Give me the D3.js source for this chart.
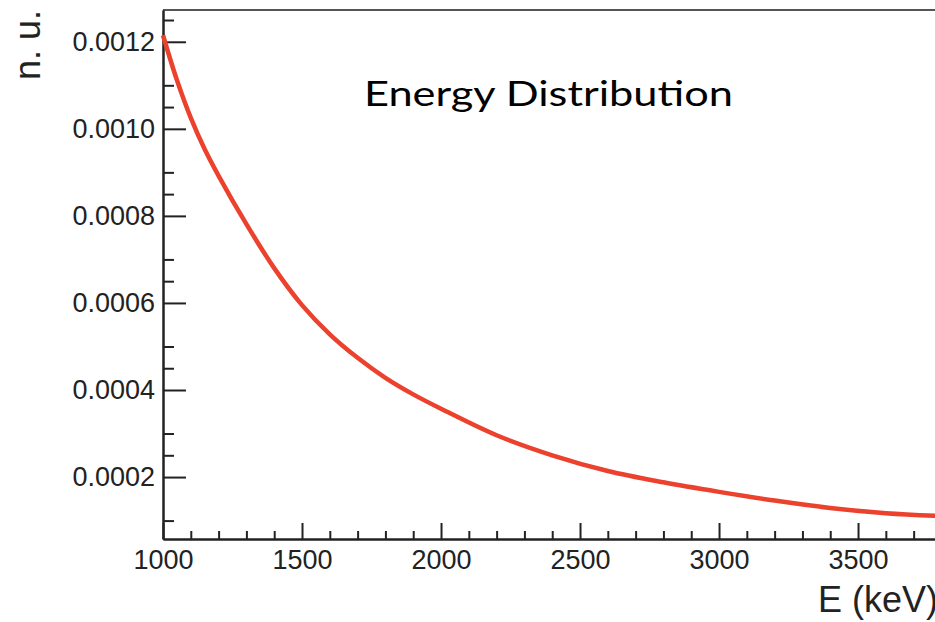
<!DOCTYPE html>
<html>
<head>
<meta charset="utf-8">
<script src="https://cdnjs.cloudflare.com/ajax/libs/d3/7.8.5/d3.min.js"></script>
<style>
    body { margin: 0; background: #fff; }
    .axis path, .axis line { stroke: #222; stroke-width: 2px; }
    .axis text { font-family: "Liberation Sans", Arial, sans-serif; font-size: 27px; fill: #222; }
</style>
</head>
<body>
<div id="EnergyChart"></div>
<script>
// Energy values (keV)
var energies = [1000, 1050, 1100, 1150, 1200, 1300, 1400, 1500, 1600, 1700, 1800, 1900,
    2000, 2200, 2400, 2600, 2800, 3000, 3200, 3400, 3600, 3780];

// normalised units at each energy
var density = [0.001215, 0.001112, 0.001025, 0.000953, 0.000892, 0.000781, 0.00068, 0.000595,
    0.000528, 0.000474, 0.000428, 0.00039, 0.000357, 0.000296, 0.00025, 0.000214,
    0.000188, 0.000166, 0.000146, 0.000129, 0.000117, 0.000111];

var xMajorTicks = [1000, 1500, 2000, 2500, 3000, 3500];
var yMajorTicks = [0.0002, 0.0004, 0.0006, 0.0008, 0.0010, 0.0012];

var xRange = [1000, 3820];
var yRange = [0.0000577, 0.001273];

var chartTitle = "Energy Distribution";
var xTitle = "E (keV)";
var yTitle = "n. u.";

var width = 935, height = 622;
var frame = {left: 163, right: 947, top: 10, bottom: 539};

var svg = d3.select("#EnergyChart")
    .append("svg")
    .attr("width", width)
    .attr("height", height);

// Set the ranges
var x = d3.scaleLinear().domain(xRange).range([frame.left, frame.right]);
var y = d3.scaleLinear().domain(yRange).range([frame.bottom, frame.top]);

// minor ticks every 100 keV and every 0.00005
var xMinorTicks = d3.range(1100, 3900, 100).filter(function (d) { return d % 500 !== 0; });
var yMinorTicks = d3.range(1, 26).map(function (i) { return i * 0.00005; })
    .filter(function (d) { return d > yRange[0] && Math.round(d * 10000) % 2 !== 0; });

// top border of the frame
svg.append("line")
    .attr("x1", frame.left).attr("x2", frame.right)
    .attr("y1", frame.top).attr("y2", frame.top)
    .attr("stroke", "#555")
    .attr("stroke-width", 2);

// Add the X Axis
svg.append("g")
    .attr("class", "x axis")
    .attr("transform", "translate(0," + frame.bottom + ")")
    .call(d3.axisBottom(x).tickValues(xMinorTicks).tickSize(-8).tickSizeOuter(0).tickFormat(""));

svg.append("g")
    .attr("class", "x axis")
    .attr("transform", "translate(0," + frame.bottom + ")")
    .call(d3.axisBottom(x).tickValues(xMajorTicks).tickSize(-16).tickSizeOuter(0).tickPadding(11)
        .tickFormat(d3.format("d")));

// Add the Y Axis
svg.append("g")
    .attr("class", "y axis")
    .attr("transform", "translate(" + frame.left + ",0)")
    .call(d3.axisLeft(y).tickValues(yMinorTicks).tickSize(-11).tickSizeOuter(0).tickFormat(""));

svg.append("g")
    .attr("class", "y axis")
    .attr("transform", "translate(" + frame.left + ",0)")
    .call(d3.axisLeft(y).tickValues(yMajorTicks).tickSize(-23).tickSizeOuter(0).tickPadding(8)
        .tickFormat(d3.format(".4f")));

// Define the line
var valueline = d3.line()
    .x(function (d, i) { return x(energies[i]); })
    .y(function (d) { return y(d); })
    .curve(d3.curveCatmullRom.alpha(0.5));

svg.append("path")
    .attr("fill", "none")
    .attr("stroke", "#eb412d")
    .attr("stroke-width", 4.5)
    .attr("d", valueline(density));

// axis titles
svg.append("text")
    .attr("x", 818)
    .attr("y", 612)
    .style("font-family", "Liberation Sans, Arial, sans-serif")
    .style("font-size", "36px")
    .attr("fill", "#222")
    .text(xTitle);

svg.append("text")
    .attr("transform", "translate(40," + frame.top + ") rotate(-90)")
    .attr("text-anchor", "end")
    .style("font-family", "Liberation Sans, Arial, sans-serif")
    .style("font-size", "36px")
    .attr("fill", "#222")
    .text(yTitle);

// Adding the Title
svg.append("text")
    .attr("x", 364)
    .attr("y", 106)
    .attr("textLength", 369)
    .attr("lengthAdjust", "spacingAndGlyphs")
    .style("font-family", "Lato, 'Open Sans', sans-serif")
    .style("font-size", "34px")
    .attr("fill", "#000")
    .text(chartTitle);
</script>
</body>
</html>
